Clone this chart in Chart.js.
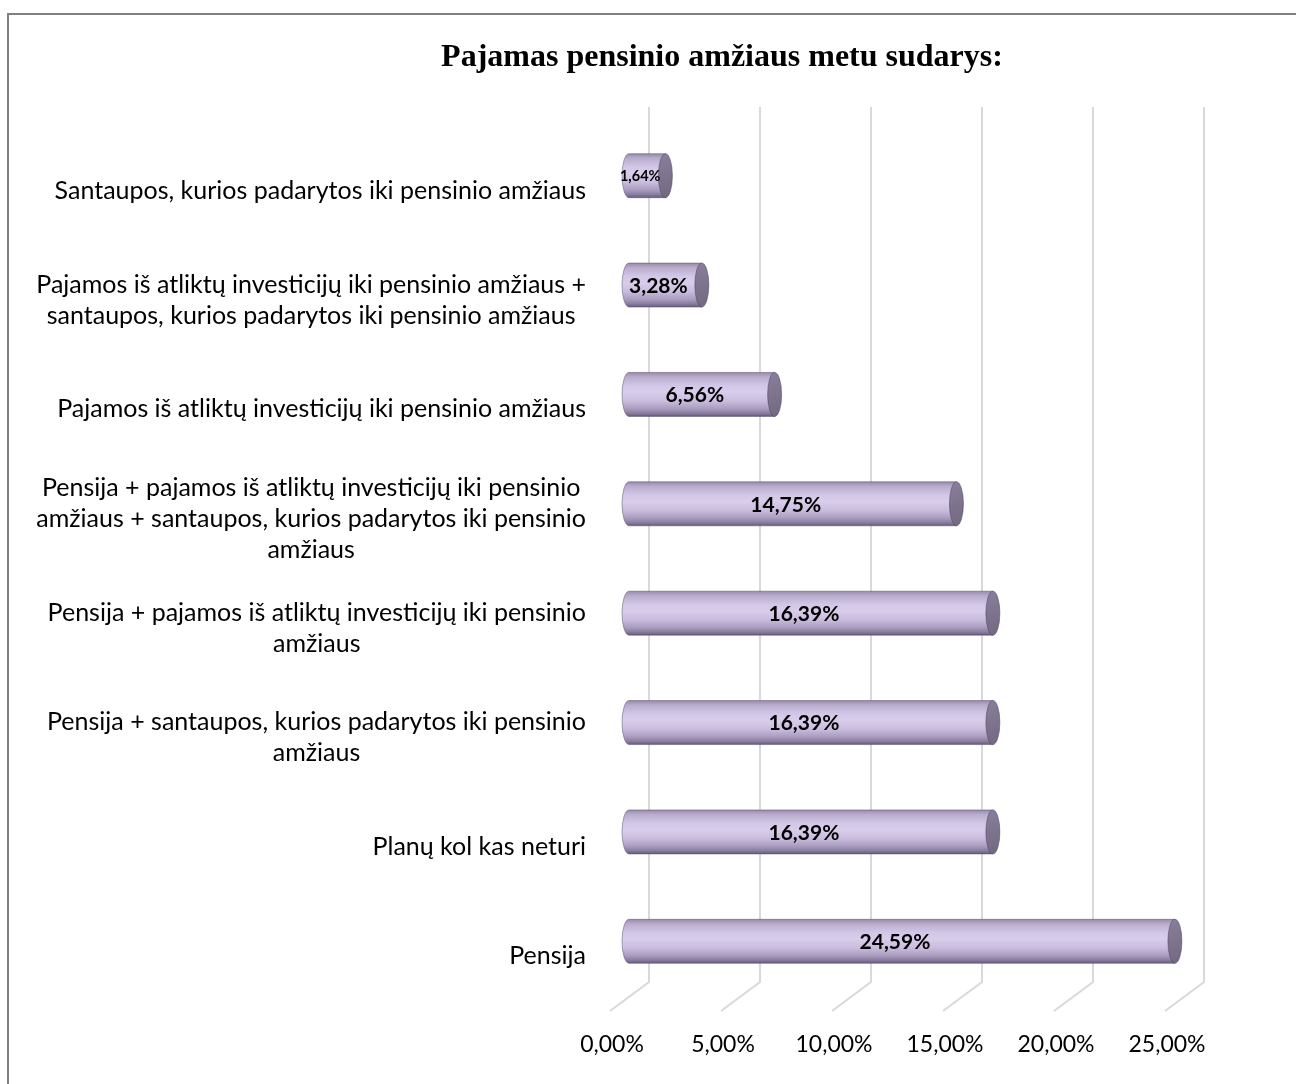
<!DOCTYPE html>
<html lang="lt">
<head>
<meta charset="utf-8">
<title>Pajamas pensinio amžiaus metu sudarys</title>
<script src="https://cdn.jsdelivr.net/npm/chart.js@4.4.1/dist/chart.umd.min.js"></script>
<style>
  html, body { margin: 0; padding: 0; background: #ffffff; }
  #wrap { position: relative; width: 1296px; height: 1084px; overflow: hidden; }
  canvas { display: block; }
</style>
</head>
<body>
<div id="wrap"><canvas id="chart" width="1296" height="1084"></canvas></div>
<script>
// Chart title
const chartTitle = 'Pajamas pensinio amžiaus metu sudarys:';

// Answer categories, top to bottom (multi-line labels as arrays of lines)
const categories = [
  ['Santaupos, kurios padarytos iki pensinio amžiaus'],
  ['Pajamos iš atliktų investicijų iki pensinio amžiaus +', 'santaupos, kurios padarytos iki pensinio amžiaus'],
  ['Pajamos iš atliktų investicijų iki pensinio amžiaus'],
  ['Pensija + pajamos iš atliktų investicijų iki pensinio', 'amžiaus + santaupos, kurios padarytos iki pensinio', 'amžiaus'],
  ['Pensija + pajamos iš atliktų investicijų iki pensinio', 'amžiaus'],
  ['Pensija + santaupos, kurios padarytos iki pensinio', 'amžiaus'],
  ['Planų kol kas neturi'],
  ['Pensija']
];

// Share of respondents, %
const shares = [1.64, 3.28, 6.56, 14.75, 16.39, 16.39, 16.39, 24.59];

// Value axis
const axisMin = 0;
const axisMax = 25;
const axisStep = 5;

const fmtPct = v => v.toFixed(2).replace('.', ',') + '%';

// Depth offsets of the pseudo-3D plot: back wall and front edge relative to the bar plane
const BACK = { dx: 20, dy: -14 };
const FRONT = { dx: -19, dy: 15 };
const CAP_RX = 7;
const LABEL_FONT = '25px Lato';
const LABEL_LINE = 31;

function frameAndTitle(chart) {
  const ctx = chart.ctx;
  ctx.save();
  ctx.fillStyle = '#ffffff';
  ctx.fillRect(0, 0, chart.width, chart.height);
  ctx.fillStyle = '#808080';
  ctx.fillRect(7, 13, 2, chart.height - 13);
  ctx.fillRect(7, 13, chart.width - 7, 2);
  ctx.fillStyle = '#000000';
  ctx.font = 'bold 32px "Liberation Serif", "Times New Roman", serif';
  ctx.textAlign = 'center';
  ctx.textBaseline = 'alphabetic';
  ctx.fillText(chartTitle, 722, 66);
  ctx.restore();
}

const backdropPlugin = {
  id: 'backdrop',
  beforeDraw(chart) {
    frameAndTitle(chart);
    const { ctx, chartArea, scales } = chart;
    const xs = scales.x;
    ctx.save();
    ctx.strokeStyle = '#d9d9d9';
    ctx.lineWidth = 2;
    ctx.lineJoin = 'miter';
    xs.ticks.forEach(t => {
      const px = xs.getPixelForValue(t.value);
      ctx.beginPath();
      ctx.moveTo(px + BACK.dx, chartArea.top + BACK.dy);
      ctx.lineTo(px + BACK.dx, chartArea.bottom + BACK.dy);
      ctx.lineTo(px + FRONT.dx, chartArea.bottom + FRONT.dy);
      ctx.stroke();
    });
    // category labels, each block centred on itself and right-aligned against the plot
    const ys = scales.y;
    ctx.fillStyle = '#000000';
    ctx.font = LABEL_FONT;
    ctx.textBaseline = 'alphabetic';
    ctx.textAlign = 'center';
    const rightEdge = xs.getPixelForValue(axisMin) + FRONT.dx - 24;
    categories.forEach((lines, i) => {
      const yc = ys.getPixelForValue(i) + 14;
      const widths = lines.map(l => ctx.measureText(l).width);
      const blockW = Math.max(...widths);
      const cx = rightEdge - blockW / 2;
      lines.forEach((l, k) => {
        const baseline = yc + 9 + (k - (lines.length - 1) / 2) * LABEL_LINE;
        ctx.fillText(l, cx, baseline);
      });
    });
    ctx.restore();
  }
};

function drawCylinder(ctx, x0, x1, yc, h) {
  const top = yc - h / 2, bot = yc + h / 2, ry = h / 2, rx = CAP_RX;
  const body = ctx.createLinearGradient(0, top, 0, bot);
  body.addColorStop(0.00, '#968aab');
  body.addColorStop(0.10, '#b8abcc');
  body.addColorStop(0.30, '#d3c7e7');
  body.addColorStop(0.45, '#d9cdeb');
  body.addColorStop(0.65, '#c9bcdd');
  body.addColorStop(0.82, '#ab9dc0');
  body.addColorStop(0.93, '#887c9f');
  body.addColorStop(1.00, '#655a78');
  ctx.beginPath();
  ctx.moveTo(x1, top);
  ctx.lineTo(x0, top);
  ctx.ellipse(x0, yc, rx, ry, 0, -Math.PI / 2, Math.PI / 2, true);
  ctx.lineTo(x1, bot);
  ctx.closePath();
  ctx.fillStyle = body;
  ctx.fill();
  ctx.strokeStyle = 'rgba(90, 80, 110, 0.5)';
  ctx.lineWidth = 1;
  ctx.stroke();

  const cap = ctx.createLinearGradient(x1 - rx, top, x1 + rx, bot);
  cap.addColorStop(0, '#8a7f9c');
  cap.addColorStop(1, '#72687f');
  ctx.beginPath();
  ctx.ellipse(x1, yc, rx, ry, 0, 0, Math.PI * 2);
  ctx.fillStyle = cap;
  ctx.fill();
  ctx.strokeStyle = 'rgba(80, 70, 100, 0.55)';
  ctx.stroke();
}

const cylinderPlugin = {
  id: 'cylinders',
  afterDatasetsDraw(chart) {
    const ctx = chart.ctx;
    const meta = chart.getDatasetMeta(0);
    ctx.save();
    meta.data.forEach((bar, i) => {
      const p = bar.getProps(['x', 'y', 'base', 'height'], true);
      drawCylinder(ctx, p.base, p.x, p.y, p.height);

      // value label, shrunk when the bar is too short to hold it
      const txt = fmtPct(shares[i]);
      let size = 21;
      ctx.font = 'bold ' + size + 'px Lato';
      const w = ctx.measureText(txt).width;
      const avail = (p.x - p.base) + CAP_RX - 3;
      if (w > avail) {
        size = size * avail / w;
        ctx.font = 'bold ' + size.toFixed(1) + 'px Lato';
      }
      ctx.fillStyle = '#000000';
      ctx.textAlign = 'center';
      ctx.textBaseline = 'middle';
      ctx.fillText(txt, (p.base + p.x) / 2 - CAP_RX, p.y + 1);
    });
    ctx.restore();
  }
};

new Chart(document.getElementById('chart'), {
  type: 'bar',
  data: {
    labels: categories,
    datasets: [{
      data: shares,
      backgroundColor: 'rgba(0,0,0,0)',
      borderWidth: 0,
      barThickness: 44
    }]
  },
  options: {
    indexAxis: 'y',
    responsive: false,
    animation: false,
    events: [],
    layout: { padding: { left: 629, right: 112, top: 121, bottom: 27 } },
    plugins: {
      legend: { display: false },
      tooltip: { enabled: false },
      title: { display: false }
    },
    scales: {
      x: {
        min: axisMin,
        max: axisMax,
        grid: { display: false, drawTicks: false },
        border: { display: false },
        afterFit: scale => { scale.height = 61; },
        ticks: {
          stepSize: axisStep,
          padding: 35,
          labelOffset: -17,
          maxRotation: 0,
          color: '#000000',
          font: { family: 'Lato', size: 23 },
          callback: v => fmtPct(v)
        }
      },
      y: {
        display: false,
        grid: { display: false },
        border: { display: false }
      }
    }
  },
  plugins: [backdropPlugin, cylinderPlugin]
});
</script>
</body>
</html>
